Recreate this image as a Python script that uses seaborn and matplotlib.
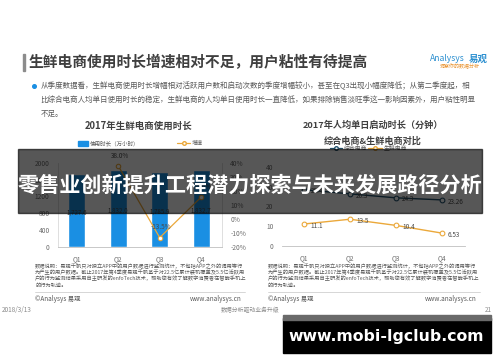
import matplotlib
matplotlib.use('Agg')
import matplotlib.pyplot as plt
import seaborn as sns
import pandas as pd
import numpy as np
from matplotlib.patches import Rectangle
from matplotlib.lines import Line2D

sns.set_theme(style='white')
plt.rcParams['font.family'] = ['Noto Sans CJK SC', 'DejaVu Sans']
plt.rcParams['axes.unicode_minus'] = False

# ---------------- data ----------------
quarters = ['Q1', 'Q2', 'Q3', 'Q4']
usage_hours = [1727.6, 1832.0, 1785.9, 1832.7]          # 万小时
usage_labels = ['1,727.6', '1,832.0', '1,785.9', '1,832.7']
growth_pct = [np.nan, 38.0, -13.5, 15.6]
growth_labels = ['', '38.0%', '-13.5%', '15.6%']
comp_minutes = [28.4, 26.3, 24.3, 23.26]                 # 综合电商
fresh_minutes = [11.1, 13.5, 10.4, 6.53]                 # 生鲜电商
comp_labels = ['28.4', '26.3', '24.3', '23.26']
fresh_labels = ['11.1', '13.5', '10.4', '6.53']
left_yticks = [0, 400, 800, 1200, 1600, 2000]
right_pct_ticks = [-20, -10, 0, 10, 20, 30, 40]
minute_ticks = [0, 10, 20, 30, 40]

BLUE = '#1a8fe3'
GOLD = '#eba83a'
NAVY = '#24546f'
GRAY = '#6e6e6e'

W, H = 500, 362
fig = plt.figure(figsize=(W / 100, H / 100), dpi=100)
fig.patch.set_facecolor('white')


def fx(x):
    return x / W


def fy(y):
    return 1 - y / H


def rect(x0, y0, x1, y1):
    return [x0 / W, 1 - y1 / H, (x1 - x0) / W, (y1 - y0) / H]


def ftext(x, y, s, **kw):
    kw.setdefault('va', 'center')
    fig.text(fx(x), fy(y), s, **kw)


# ---------------- header ----------------
fig.patches.append(Rectangle((fx(22.5), fy(71)), 2 / W, 17 / H, transform=fig.transFigure,
                             color='#8c8c8c'))
ftext(28.5, 62.5, '生鲜电商使用时长增速相对不足，用户粘性有待提高', fontsize=10.6,
      fontweight='bold', color='#3f3f3f')
ftext(430, 58.5, 'Analysys', fontsize=6.2, style='italic', color='#2b8fd0')
ftext(469, 58.5, '易观', fontsize=6.8, fontweight='bold', color='#2b8fd0')
ftext(440, 66.8, '洞察你的数据分析', fontsize=3.6, color='#e8902a')

fig.add_artist(Line2D([fx(34.3)], [fy(85.7)], marker='o', markersize=2.6, color=BLUE,
                      transform=fig.transFigure))
para = ['从季度数据看，生鲜电商使用时长增幅相对活跃用户数和启动次数的季度增幅较小，甚至在Q3出现小幅度降低；从第二季度起，相',
        '比综合电商人均单日使用时长的稳定，生鲜电商的人均单日使用时长一直降低，如果排除销售淡旺季这一影响因素外，用户粘性明显',
        '不足。']
for i, line in enumerate(para):
    ftext(40.5, 85.7 + i * 14, line, fontsize=5.45, color='#595959')

# ---------------- left chart ----------------
ftext(138.5, 125.5, '2017年生鲜电商使用时长', fontsize=6.8, fontweight='bold',
      color='#404040', ha='center')
fig.patches.append(Rectangle((fx(78), fy(146)), 10 / W, 5.5 / H, transform=fig.transFigure,
                             color=BLUE))
ftext(89.5, 143.3, '使用时长（万小时）', fontsize=4, color='#595959')
fig.add_artist(Line2D([fx(177), fx(190)], [fy(143.3)] * 2, color=GOLD, lw=0.9,
                      transform=fig.transFigure))
fig.add_artist(Line2D([fx(183.5)], [fy(143.3)], marker='o', markersize=2.6, color=GOLD,
                      markerfacecolor='white', transform=fig.transFigure))
ftext(192, 143.3, '增速', fontsize=4, color='#595959')

ax1 = fig.add_axes(rect(58, 163, 222, 246.7))
df_bar = pd.DataFrame({'quarter': quarters, 'hours': usage_hours})
sns.barplot(data=df_bar, x='quarter', y='hours', color=BLUE, saturation=1, width=0.41,
            ax=ax1)
ax1.set_xlim(-0.45, 3.5)
ax1.set_ylim(0, 2000)
ax1.set_yticks(left_yticks)
ax1.set_xlabel('')
ax1.set_ylabel('')
ax1.tick_params(axis='both', length=0, labelsize=4.8, labelcolor=GRAY, pad=6)
for s in ['left', 'right']:
    ax1.spines[s].set_color('#d9d9d9')
    ax1.spines[s].set_linewidth(0.6)
ax1.spines['top'].set_visible(False)
ax1.spines['bottom'].set_color('#bfbfbf')
ax1.spines['bottom'].set_linewidth(0.6)
ax1.set_facecolor('none')
for i, v in enumerate(usage_hours):
    ax1.text(i, v * 0.47, usage_labels[i], ha='center', va='center', fontsize=4.4,
             color='#4a4a4a')

ax2 = ax1.twinx()
df_growth = pd.DataFrame({'pos': np.arange(len(quarters)), 'growth': growth_pct})
sns.lineplot(data=df_growth, x='pos', y='growth', color=GOLD, lw=0.9, marker='o',
             markersize=3.2, markerfacecolor='white', markeredgecolor=GOLD,
             markeredgewidth=0.8, ax=ax2)
ax2.set_ylim(-20, 40)
ax2.set_yticks(right_pct_ticks)
ax2.set_yticklabels([f'{t}%' for t in right_pct_ticks])
ax2.set_ylabel('')
ax2.set_xlim(-0.45, 3.5)
ax2.tick_params(axis='y', length=0, labelsize=4.8, labelcolor=GRAY, pad=6)
for s in ax2.spines.values():
    s.set_visible(False)
for i, v in enumerate(growth_pct):
    if not np.isnan(v):
        ax2.annotate(growth_labels[i], (i, v), xytext=(1, 4.5), textcoords='offset points',
                     ha='center', va='bottom', fontsize=4.6, color='#4a4a4a')

# ---------------- right chart ----------------
ftext(372.5, 125.5, '2017年人均单日启动时长（分钟）', fontsize=6.6, fontweight='bold',
      color='#404040', ha='center')
ftext(373, 141.5, '综合电商&生鲜电商对比', fontsize=6.6, fontweight='bold',
      color='#404040', ha='center')
for x0, x1, col, lab in [(330, 342, NAVY, '综合电商'), (368, 382, GOLD, '生鲜电商')]:
    fig.add_artist(Line2D([fx(x0), fx(x1)], [fy(148.3)] * 2, color=col, lw=0.9,
                          transform=fig.transFigure))
    fig.add_artist(Line2D([fx((x0 + x1) / 2)], [fy(148.3)], marker='o', markersize=2.6,
                          color=col, markerfacecolor='white', transform=fig.transFigure))
    ftext(x1 + 1.5, 148.3, lab, fontsize=4.2, color='#595959')

ax3 = fig.add_axes(rect(281.7, 166.7, 465, 246))
pos = np.arange(len(quarters))
for vals, col, labs in [(comp_minutes, NAVY, comp_labels), (fresh_minutes, GOLD, fresh_labels)]:
    sns.lineplot(x=pos, y=vals, color=col, lw=1.0, marker='o', markersize=3.4,
                 markerfacecolor='white', markeredgecolor=col, markeredgewidth=0.8, ax=ax3)
    for i, v in enumerate(vals):
        ax3.annotate(labs[i], (i, v), xytext=(4.5, -1.2), textcoords='offset points',
                     ha='left', va='center', fontsize=4.6, color='#4a4a4a')
ax3.set_xlim(-0.49, 3.51)
ax3.set_ylim(0, 40)
ax3.set_yticks(minute_ticks)
ax3.set_xticks(pos)
ax3.set_xticklabels(quarters)
ax3.tick_params(axis='both', length=0, labelsize=4.8, labelcolor=GRAY, pad=6)
for s in ['top', 'left', 'right']:
    ax3.spines[s].set_visible(False)
ax3.spines['bottom'].set_color('#bfbfbf')
ax3.spines['bottom'].set_linewidth(0.6)
ax3.set_facecolor('none')

# ---------------- sources / footer ----------------
src = ['数据说明：易观千帆只对独立APP中的用户数据进行监测统计，不包括APP之外的调用等行',
       '为产生的用户数据。截止2017年第4季度易观千帆基于对22.5亿累计装机覆盖及5.5亿活跃用',
       '户的行为监测结果采用自主研发的enfoTech技术，帮助您有效了解数字消费者在智能手机上',
       '的行为轨迹。']
for x0, x1 in [(35, 245), (268, 480)]:
    for i, line in enumerate(src):
        ftext(x0, 266 + i * 6.4, line, fontsize=3.75, color='#595959')
    fig.add_artist(Line2D([fx(x0), fx(x1)], [fy(291.7)] * 2, color='#d0d0d0', lw=0.6,
                          transform=fig.transFigure))
    ftext(x0, 299.3, '©Analysys 易观', fontsize=4.6, color='#595959')
    ftext(x1 - 3, 299.3, 'www.analysys.cn', fontsize=4.6, color='#595959', ha='right')

ftext(2, 310, '2018/3/13', fontsize=4.6, color='#8a8a8a')
ftext(250, 310, '数据分析驱动业务升级', fontsize=4.2, color='#8a8a8a', ha='center')
ftext(492, 310, '21', fontsize=4.6, color='#8a8a8a', ha='right')

# ---------------- overlay banner ----------------
fig.patches.append(Rectangle((fx(18.3), fy(212.7)), (481.7 - 18.3) / W, (212.7 - 149) / H,
                             transform=fig.transFigure, color='black', alpha=0.66,
                             zorder=10))
fig.text(fx(250), fy(185.5), '零售业创新提升工程潜力探索与未来发展路径分析', fontsize=15.2,
         fontweight='bold', color='white', ha='center', va='center', zorder=11)

# ---------------- watermark ----------------
fig.patches.append(Rectangle((fx(282.7), fy(352.7)), 208 / W, 34.7 / H,
                             transform=fig.transFigure, color='black', zorder=10))
fig.patches.append(Rectangle((fx(282.7), fy(320)), 208 / W, 5 / H,
                             transform=fig.transFigure, color='#6a6a6a', zorder=10))
fig.text(fx(386.5), fy(336.5), 'www.mobi-lgclub.com', fontsize=11.3, fontweight='bold',
         color='white', ha='center', va='center', family='DejaVu Sans', zorder=11)

fig.savefig('out.png', dpi=100, facecolor='white')
